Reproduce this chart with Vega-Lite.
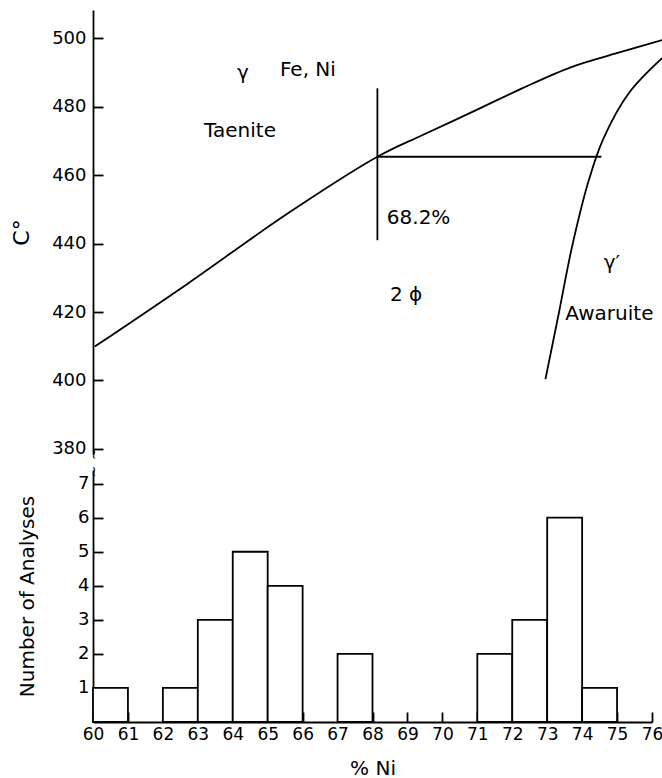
{
  "$schema": "https://vega.github.io/schema/vega-lite/v6.json",
  "padding": {"left": 10, "top": 10, "right": 0, "bottom": 0},
  "background": "white",
  "spacing": 5,
  "resolve": {"scale": {"x": "independent"}, "axis": {"x": "independent"}},
  "config": {
    "view": {"stroke": null},
    "font": "DejaVu Sans",
    "axis": {
      "grid": false,
      "domainColor": "black",
      "domainWidth": 1.8,
      "tickColor": "black",
      "tickWidth": 1.8,
      "tickSize": -10,
      "labelColor": "black",
      "labelFont": "DejaVu Sans",
      "labelFontSize": 18,
      "labelOverlap": false,
      "labelFlush": false,
      "titleColor": "black",
      "titleFont": "DejaVu Sans",
      "titleFontSize": 20,
      "titleFontWeight": "normal"
    }
  },
  "datasets": {
    "curves": [
      {"curve": "taenite", "ni": 60.05, "t": 409.9},
      {"curve": "taenite", "ni": 62.71, "t": 428.3},
      {"curve": "taenite", "ni": 65.57, "t": 448.8},
      {"curve": "taenite", "ni": 68.14, "t": 465.4},
      {"curve": "taenite", "ni": 69.42, "t": 471.7},
      {"curve": "taenite", "ni": 70.86, "t": 478.5},
      {"curve": "taenite", "ni": 72.28, "t": 485.4},
      {"curve": "taenite", "ni": 73.71, "t": 491.7},
      {"curve": "taenite", "ni": 75.14, "t": 496.1},
      {"curve": "taenite", "ni": 76.29, "t": 499.5},
      {"curve": "awaruite", "ni": 72.95, "t": 400.4},
      {"curve": "awaruite", "ni": 73.33, "t": 419.5},
      {"curve": "awaruite", "ni": 73.71, "t": 439.0},
      {"curve": "awaruite", "ni": 74.19, "t": 458.5},
      {"curve": "awaruite", "ni": 74.6, "t": 470.5},
      {"curve": "awaruite", "ni": 75.33, "t": 483.9},
      {"curve": "awaruite", "ni": 76.29, "t": 494.2}
    ],
    "rules": [
      {"ni": 68.14, "ni2": 74.55, "t": 465.4, "t2": 465.4},
      {"ni": 68.14, "ni2": 68.14, "t": 441.0, "t2": 485.4}
    ],
    "labels": [
      {"ni": 64.12, "t": 490.0, "label": "γ"},
      {"ni": 65.35, "t": 490.7, "label": "Fe, Ni"},
      {"ni": 63.18, "t": 472.9, "label": "Taenite"},
      {"ni": 68.41, "t": 447.6, "label": "68.2%"},
      {"ni": 68.5, "t": 425.0, "label": "2 ϕ"},
      {"ni": 74.62, "t": 434.3, "label": "γ′"},
      {"ni": 73.52, "t": 419.3, "label": "Awaruite"}
    ],
    "hist": [
      {"bin": 60, "bin2": 61, "count": 1},
      {"bin": 62, "bin2": 63, "count": 1},
      {"bin": 63, "bin2": 64, "count": 3},
      {"bin": 64, "bin2": 65, "count": 5},
      {"bin": 65, "bin2": 66, "count": 4},
      {"bin": 67, "bin2": 68, "count": 2},
      {"bin": 71, "bin2": 72, "count": 2},
      {"bin": 72, "bin2": 73, "count": 3},
      {"bin": 73, "bin2": 74, "count": 6},
      {"bin": 74, "bin2": 75, "count": 1}
    ]
  },
  "vconcat": [
    {
      "width": 559,
      "height": 444,
      "layer": [
        {
          "data": {"name": "curves"},
          "mark": {"type": "line", "color": "black", "strokeWidth": 1.8, "interpolate": "catmull-rom", "clip": false},
          "encoding": {
            "x": {"field": "ni", "type": "quantitative", "scale": {"domain": [60, 76], "nice": false, "zero": false}, "axis": null},
            "y": {"field": "t", "type": "quantitative", "scale": {"domain": [378.5, 508.3], "nice": false, "zero": false},
              "axis": {"title": "C°", "titleFontSize": 22, "labelPadding": 17, "values": [380, 400, 420, 440, 460, 480, 500], "titleAngle": -90, "titleX": -72, "titleY": 222, "titleAlign": "center", "titleBaseline": "middle"}},
            "detail": {"field": "curve"}
          }
        },
        {
          "data": {"name": "rules"},
          "mark": {"type": "rule", "color": "black", "strokeWidth": 1.8},
          "encoding": {
            "x": {"field": "ni", "type": "quantitative"},
            "x2": {"field": "ni2"},
            "y": {"field": "t", "type": "quantitative"},
            "y2": {"field": "t2"}
          }
        },
        {
          "data": {"name": "labels"},
          "mark": {"type": "text", "align": "left", "baseline": "middle", "fontSize": 20, "font": "DejaVu Sans", "color": "black"},
          "encoding": {
            "x": {"field": "ni", "type": "quantitative"},
            "y": {"field": "t", "type": "quantitative"},
            "text": {"field": "label"}
          }
        },
        {
          "data": {"values": [{"ni": 60, "t": 378.5, "s": "~"}]},
          "mark": {"type": "text", "angle": 90, "fontSize": 14, "baseline": "middle", "align": "center", "color": "black"},
          "encoding": {
            "x": {"field": "ni", "type": "quantitative"},
            "y": {"field": "t", "type": "quantitative"},
            "text": {"field": "s"}
          }
        }
      ]
    },
    {
      "width": 559,
      "height": 252,
      "encoding": {
        "x": {"type": "quantitative", "scale": {"domain": [60, 76], "nice": false, "zero": false},
          "axis": {"title": "% Ni", "values": [60,61,62,63,64,65,66,67,68,69,70,71,72,73,74,75,76], "labelOverlap": false, "labelFontSize": 17, "labelPadding": 14, "titlePadding": 16}},
        "y": {"type": "quantitative", "scale": {"domain": [0, 7.4], "nice": false},
          "axis": {"title": "Number  of  Analyses", "labelPadding": 14, "values": [1, 2, 3, 4, 5, 6, 7], "titleAngle": -90, "titleX": -66, "titleY": 126, "titleAlign": "center", "titleBaseline": "middle"}}
      },
      "layer": [
        {
          "data": {"name": "hist"},
          "mark": {"type": "bar", "fill": "white", "stroke": "black", "strokeWidth": 1.8},
          "encoding": {
            "x": {"field": "bin"},
            "x2": {"field": "bin2"},
            "y": {"field": "count"},
            "y2": {"datum": 0}
          }
        },
        {
          "data": {"values": [{"bin": 60, "count": 7.35, "s": "~"}]},
          "mark": {"type": "text", "angle": 90, "fontSize": 14, "baseline": "middle", "align": "center", "color": "black"},
          "encoding": {
            "x": {"field": "bin"},
            "y": {"field": "count"},
            "text": {"field": "s"}
          }
        }
      ]
    }
  ]
}
